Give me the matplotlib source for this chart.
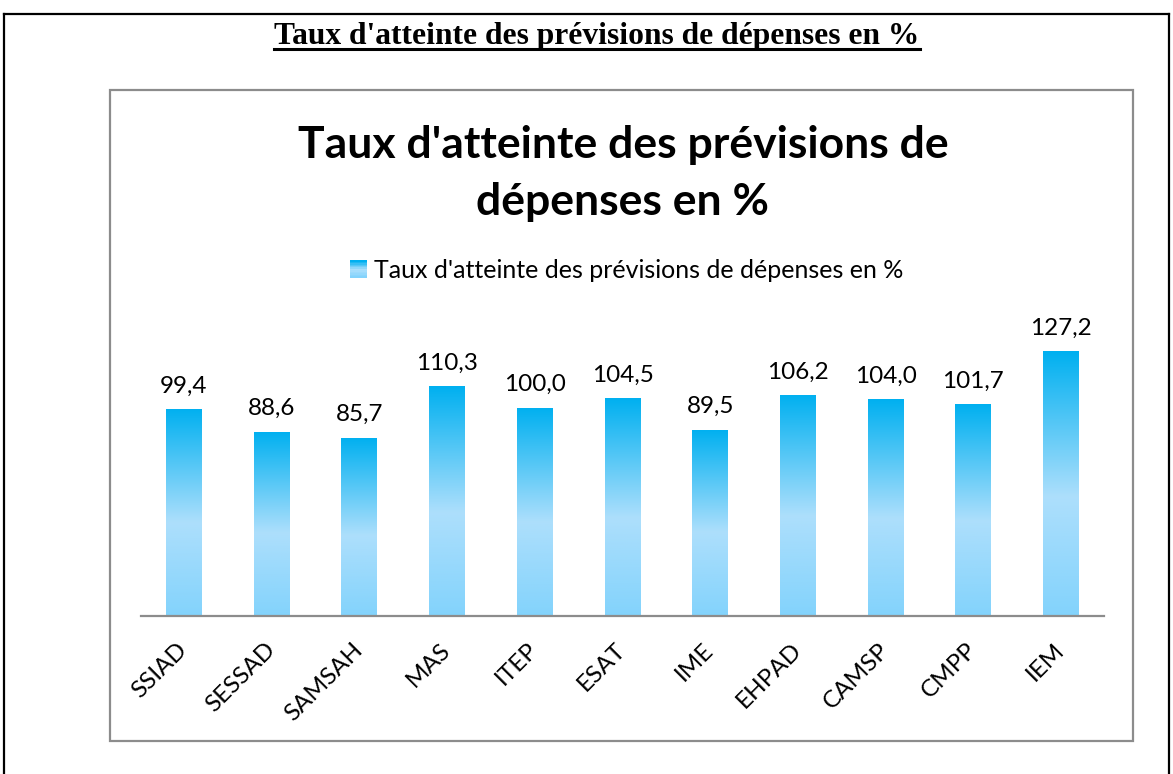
import numpy as np
import matplotlib
matplotlib.use("Agg")
from matplotlib import pyplot as plt
from matplotlib.colors import LinearSegmentedColormap
from matplotlib.patches import Rectangle
from matplotlib.lines import Line2D
from matplotlib.legend_handler import HandlerBase

# Données du graphique
categories = ["SSIAD", "SESSAD", "SAMSAH", "MAS", "ITEP", "ESAT", "IME",
              "EHPAD", "CAMSP", "CMPP", "IEM"]
taux = [99.4, 88.6, 85.7, 110.3, 100.0, 104.5, 89.5, 106.2, 104.0, 101.7, 127.2]
titre = "Taux d'atteinte des prévisions de dépenses en %"

# Dégradé vertical des barres (haut -> bas)
cmap = LinearSegmentedColormap.from_list(
    "excel_bleu", [(0.0, "#00B0F0"), (0.55, "#ADDFFC"), (1.0, "#83D3FC")])
police = ["Lato", "DejaVu Sans"]


class HandlerDegrade(HandlerBase):
    """Petit carré en dégradé pour la légende."""
    def create_artists(self, legend, orig_handle, xdescent, ydescent,
                       width, height, fontsize, trans):
        n = 12
        artistes = []
        cote = height * 1.0
        x0 = width - cote
        for i in range(n):
            r = Rectangle((x0 - xdescent, -ydescent + cote * (n - 1 - i) / n),
                          cote, cote / n, facecolor=cmap(i / (n - 1)),
                          edgecolor="none", transform=trans)
            artistes.append(r)
        return artistes


fig = plt.figure(figsize=(11.73, 7.74), dpi=100)

# Cadre noir extérieur
for xs, ys in [([0.0034, 0.0034], [0, 0.982]), ([0.0034, 0.9966], [0.982, 0.982]),
               ([0.9966, 0.9966], [0, 0.982])]:
    fig.add_artist(Line2D(xs, ys, color="black", lw=1.6, transform=fig.transFigure))

# Titre du document (Times gras souligné)
t = fig.text(0.509, 0.953, titre, ha="center", va="center",
             family=["Liberation Serif"], fontweight="bold", fontsize=22.7)

# Cadre gris du graphique
fig.add_artist(Rectangle((0.0938, 0.0426), 0.8721, 0.8411, fill=False,
                         edgecolor="#8C8C8C", lw=1.6, transform=fig.transFigure))

fig.text(0.531, 0.776, "Taux d'atteinte des prévisions de\ndépenses en %",
         ha="center", va="center", family=police, fontweight="bold",
         fontsize=32, linespacing=1.5)

ax = fig.add_axes([0.1202, 0.2041, 0.821, 0.3767])
x = np.arange(len(categories))
barres = ax.bar(x, taux, width=0.41, color="none", edgecolor="none")
ax.set_xlim(-0.49, len(categories) - 0.51)
ax.set_ylim(0, 140)

grad = np.linspace(0, 1, 256).reshape(-1, 1)
for b in barres:
    x0, y0 = b.get_x(), b.get_y()
    im = ax.imshow(grad, cmap=cmap, aspect="auto", origin="upper",
                   extent=[x0, x0 + b.get_width(), y0, y0 + b.get_height()],
                   zorder=2)
    im.set_clip_path(b)
ax.set_aspect("auto")

for xi, v in zip(x, taux):
    ax.annotate(f"{v:.1f}".replace(".", ","), (xi, v), xytext=(0, 9),
                textcoords="offset points", ha="center", va="bottom",
                family=police, fontsize=17.5)

ax.set_xticks(x)
ax.set_xticklabels(categories, rotation=45, ha="right", va="center",
                   rotation_mode="anchor", family=police, fontsize=17.5)
ax.tick_params(axis="x", length=0, pad=22)
ax.set_yticks([])
for s in ["left", "right", "top"]:
    ax.spines[s].set_visible(False)
ax.spines["bottom"].set_color("#8C8C8C")
ax.spines["bottom"].set_linewidth(1.6)

leg = fig.legend([barres[0]], [titre], loc="center", bbox_to_anchor=(0.534, 0.651),
                 frameon=False, handler_map={type(barres[0]): HandlerDegrade()},
                 prop={"family": police, "size": 18}, handlelength=0.7,
                 handletextpad=0.25)

# Soulignement du titre du document
fig.canvas.draw()
bb = t.get_window_extent().transformed(fig.transFigure.inverted())
fig.add_artist(Line2D([bb.x0, bb.x1], [bb.y0 + 0.002, bb.y0 + 0.002], color="black",
                      lw=2.2, transform=fig.transFigure))

fig.savefig("out.png", dpi=100)
